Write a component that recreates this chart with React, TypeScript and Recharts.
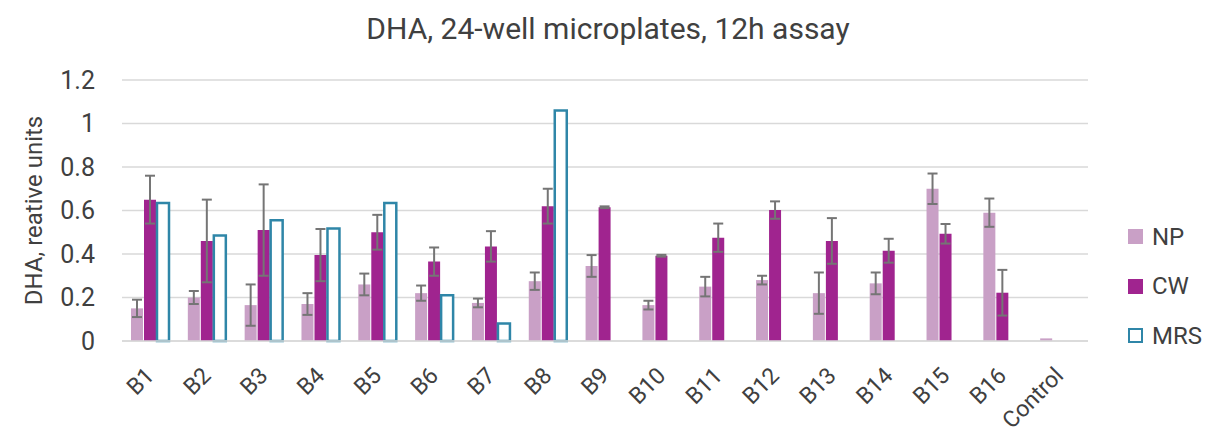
import React from "react";
import {
  BarChart,
  Bar,
  XAxis,
  YAxis,
  CartesianGrid,
  ErrorBar,
} from "recharts";

const categories = [
  "B1", "B2", "B3", "B4", "B5", "B6", "B7", "B8", "B9",
  "B10", "B11", "B12", "B13", "B14", "B15", "B16", "Control",
];

const npValues = [0.15, 0.2, 0.165, 0.17, 0.26, 0.22, 0.175, 0.275, 0.345, 0.165, 0.25, 0.28, 0.22, 0.265, 0.7, 0.59, 0.012];
const npErrors = [0.04, 0.03, 0.095, 0.05, 0.05, 0.035, 0.02, 0.04, 0.05, 0.02, 0.045, 0.02, 0.095, 0.05, 0.07, 0.065, 0];

const cwValues = [0.65, 0.46, 0.51, 0.395, 0.5, 0.365, 0.435, 0.62, 0.615, 0.392, 0.475, 0.602, 0.46, 0.415, 0.493, 0.222, null];
const cwErrors = [0.11, 0.19, 0.21, 0.12, 0.08, 0.065, 0.07, 0.08, 0.004, 0.004, 0.065, 0.04, 0.105, 0.055, 0.045, 0.105, 0];

const mrsValues = [0.634, 0.485, 0.555, 0.517, 0.634, 0.21, 0.08, 1.06, null, null, null, null, null, null, null, null, null];

const yTicks = [0, 0.2, 0.4, 0.6, 0.8, 1, 1.2];

const NP_COLOR = "#c9a0c6";
const CW_COLOR = "#a0248f";
const MRS_COLOR = "#2f86a8";
const TEXT = "#404040";
const FONT = "Roboto, sans-serif";

const data = categories.map((name, i) => ({
  name,
  np: npValues[i],
  npErr: npErrors[i],
  cw: cwValues[i],
  cwErr: cwErrors[i],
  mrs: mrsValues[i],
}));

// rotated category labels, end of text sits just right of the group centre
const XTick = ({ x, y, payload }: any) => (
  <g transform={`translate(${x + 5},${y + 28})`}>
    <text
      x={0}
      y={0}
      textAnchor="end"
      transform="rotate(-45)"
      fontSize={23}
      fill={TEXT}
      fontFamily={FONT}
    >
      {payload.value}
    </text>
  </g>
);

const legendItems = [
  { label: "NP", color: NP_COLOR, outline: false },
  { label: "CW", color: CW_COLOR, outline: false },
  { label: "MRS", color: MRS_COLOR, outline: true },
];

const ChartLegend = () => (
  <div
    style={{
      position: "absolute",
      left: 1128,
      top: 212,
      fontFamily: FONT,
      fontSize: 24,
      color: TEXT,
    }}
  >
    {legendItems.map((item) => (
      <div
        key={item.label}
        style={{ display: "flex", alignItems: "center", height: 49.5 }}
      >
        <div
          style={{
            width: item.outline ? 11 : 15,
            height: item.outline ? 11 : 15,
            background: item.outline ? "#fff" : item.color,
            border: item.outline ? `2px solid ${item.color}` : "none",
            marginRight: 9,
          }}
        />
        <span>{item.label}</span>
      </div>
    ))}
  </div>
);

export default function App() {
  return (
    <div style={{ position: "absolute", left: 0, top: 0, width: 1225, height: 434, background: "#fff", overflow: "hidden" }}>
      <div
        style={{
          position: "absolute",
          top: 11,
          left: 0,
          width: 1216,
          textAlign: "center",
          fontFamily: FONT,
          fontSize: 30,
          color: TEXT,
        }}
      >
        DHA, 24-well microplates, 12h assay
      </div>
      <BarChart
        width={1225}
        height={434}
        data={data}
        margin={{ top: 80, right: 137, bottom: 0, left: 0 }}
        barSize={12}
        barGap={1}
      >
        <CartesianGrid vertical={false} stroke="#d9d9d9" strokeWidth={1.5} />
        <XAxis
          dataKey="name"
          height={93}
          axisLine={{ stroke: "#d9d9d9", strokeWidth: 1.5 }}
          tickLine={false}
          tick={<XTick />}
          interval={0}
        />
        <YAxis
          width={122}
          domain={[0, 1.2]}
          ticks={yTicks}
          axisLine={false}
          tickLine={false}
          tickMargin={21}
          tickFormatter={(v: number) => String(Math.round(v * 10) / 10)}
          tick={{ fontSize: 25, fill: TEXT, fontFamily: FONT }}
          label={{
            value: "DHA, reative units",
            angle: -90,
            position: "insideLeft",
            dx: 28,
            dy: 0,
            style: { textAnchor: "middle", fontSize: 24, fill: TEXT, fontFamily: FONT },
          }}
        />
        <Bar dataKey="np" name="NP" fill={NP_COLOR} isAnimationActive={false}>
          <ErrorBar dataKey="npErr" width={5} stroke="#757575" strokeWidth={2} />
        </Bar>
        <Bar dataKey="cw" name="CW" fill={CW_COLOR} isAnimationActive={false}>
          <ErrorBar dataKey="cwErr" width={5} stroke="#757575" strokeWidth={2} />
        </Bar>
        <Bar
          dataKey="mrs"
          name="MRS"
          fill="#ffffff"
          stroke={MRS_COLOR}
          strokeWidth={2.5}
          isAnimationActive={false}
        />
      </BarChart>
      <ChartLegend />
    </div>
  );
}
